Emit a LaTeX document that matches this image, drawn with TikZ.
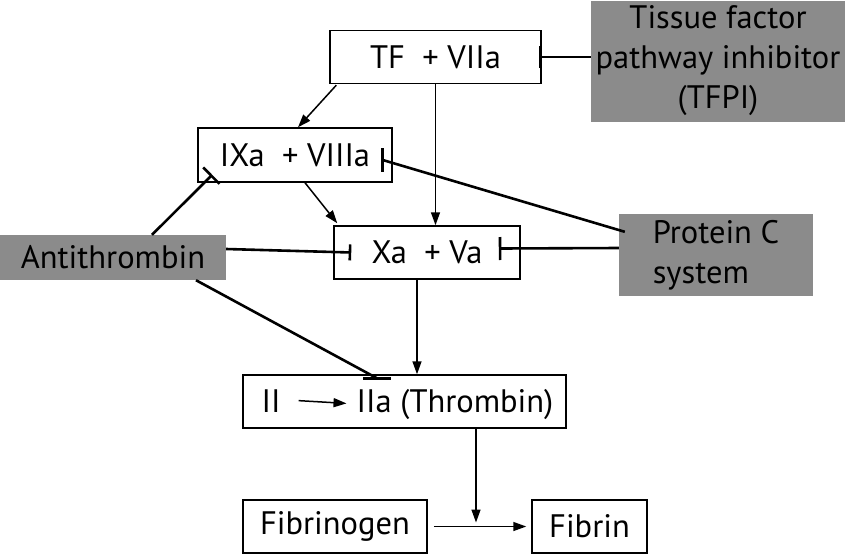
\documentclass[tikz,border=0pt]{standalone}
\usepackage{fontspec}
\setmainfont{PT Sans}
\usetikzlibrary{arrows.meta}
\definecolor{boxgray}{RGB}{139,139,139}
\begin{document}
\begin{tikzpicture}[x=1pt,y=-1pt,
  every node/.style={font=\fontsize{32.5}{40}\selectfont, inner sep=0pt},
  wbox/.style={draw=black, line width=1.5pt, fill=white},
  gbox/.style={fill=boxgray, draw=none},
  arr/.style={-{Triangle[length=13pt,width=9pt]}, line width=1.5pt},
  inh/.style={-{Bar[width=#1]}, line width=2.6pt},
  inhl/.style={line width=2.6pt}
]
\useasboundingbox (0,0) rectangle (845,555);

% nodes
\node[wbox, minimum width=211pt, minimum height=53pt] (tf) at (435.5,57) {TF\ \ + VIIa};
\node[gbox, minimum width=254pt, minimum height=121pt, align=center] (tfpi) at (718,61) {Tissue factor\\pathway inhibitor\\(TFPI)};
\node[wbox, minimum width=194pt, minimum height=54pt] (ix) at (295,155) {IXa\ \ + VIIIa};
\node[gbox, minimum width=226pt, minimum height=45pt] (at) at (113,257.5) {Antithrombin};
\node[wbox, minimum width=186pt, minimum height=53pt] (xa) at (427,252.5) {Xa\ \ + Va};
\node[gbox, minimum width=194pt, minimum height=82pt, align=left] (pc) at (716,255) {Protein C\\system};
\node[wbox, minimum width=323pt, minimum height=53pt] (th) at (404.5,401.5) {};
\node[anchor=base] (ii) at (271,412) {II};
\node[anchor=base] (iia) at (455,412) {IIa (Thrombin)};
\node[wbox, minimum width=184pt, minimum height=53pt] (fg) at (335,526.5) {Fibrinogen};
\node[wbox, minimum width=115pt, minimum height=53pt] (fb) at (589.5,526.5) {Fibrin};

% helper coordinates
\coordinate (xs) at ([xshift=-10pt]xa.south);
\coordinate (ts) at ([xshift=71.5pt]th.south);
\coordinate (fm) at (ts |- fg.east);
\coordinate (thb) at ([xshift=-27.5pt,yshift=-4pt]th.north);
\coordinate (ixb) at ([xshift=-10pt,yshift=-5pt]ix.east);

% activation arrows
\draw[arr] ([xshift=7pt,yshift=-1pt]tf.south west) -- ([xshift=3pt]ix.north);
\draw[arr] (tf.south) -- (tf.south |- xa.north);
\draw[arr] ([xshift=10pt]ix.south) -- ([xshift=4pt,yshift=2pt]xa.north west);
\draw[arr] (xs) -- (xs |- th.north);
\draw[arr, shorten >=4pt] (ts) -- (fm);
\draw[arr, shorten >=5pt] ([xshift=6pt]fg.east) -- (fb.west);
\draw[arr, shorten >=10pt] ([xshift=18pt]ii.east) -- (iia.west);

% inhibition
\draw[inh=22pt] (tfpi.west |- tf.east) -- ([xshift=-3pt]tf.east);
\draw[inh=23pt] ([xshift=39pt]at.north) -- ([xshift=15pt,yshift=8pt]ix.south west);
\draw[inh=16pt] ([yshift=8.5pt]at.east) -- ([xshift=18pt]xa.west);
\draw[inh=23pt] ([yshift=7pt]pc.west) -- ([xshift=-22pt,yshift=4pt]xa.east);
\draw[inhl] ([xshift=6pt,yshift=-18pt]pc.north west) -- (ixb);
\draw[inhl] ([yshift=12pt]ixb) -- ([yshift=-12pt]ixb);
\draw[inhl] ([xshift=83pt]at.south) -- (thb);
\draw[inhl] ([xshift=-14pt]thb) -- ([xshift=14pt]thb);
\end{tikzpicture}
\end{document}
